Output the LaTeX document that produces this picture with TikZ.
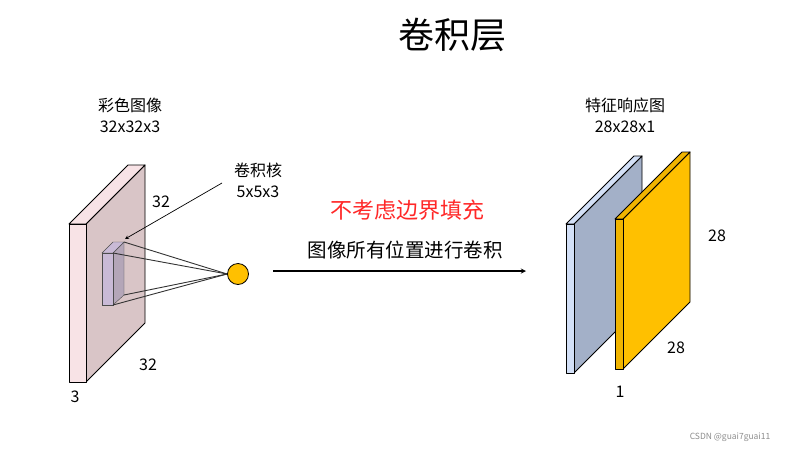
\documentclass[tikz,border=0pt]{standalone}
\usepackage{fontspec}
\setmainfont{Noto Sans CJK SC}
\begin{document}
\begin{tikzpicture}[x=1pt,y=-1pt,
  lbl/.style={font=\fontsize{16}{18}\selectfont,inner sep=0pt},
  edge/.style={draw=black,line width=0.9pt,line join=round}]
\useasboundingbox (0,0) rectangle (794,453);
\fill[white] (0,0) rectangle (794,453);
% input volume
\definecolor{pinkF}{HTML}{F8E3E6}\definecolor{pinkS}{HTML}{D9C5C7}
\filldraw[edge,fill=pinkS] (86,224)--(145,165)--(145,323)--(86,382)--cycle;
\filldraw[edge,fill=pinkF] (69,224)--(128,165)--(145,165)--(86,224)--cycle;
\filldraw[edge,fill=pinkF] (69,224) rectangle (86,382);
% kernel
\definecolor{kF}{HTML}{C9BAD6}\definecolor{kS}{HTML}{B4A6B8}
\filldraw[draw=black!70,fill=kS] (113,253)--(124,242)--(124,295)--(113,305)--cycle;
\filldraw[draw=black!70,fill=kF] (102,253)--(113,242)--(124,242)--(113,253)--cycle;
\filldraw[draw=black!70,fill=kF] (102,253) rectangle (113,305);
\node[circle,draw=black,line width=0.8pt,fill={rgb,255:red,255;green,192;blue,0},minimum size=21pt,inner sep=0pt] (dot) at (238,274) {};
\coordinate (k1) at (124,242);\coordinate (k2) at (113,253);
\coordinate (k3) at (113,305);\coordinate (k4) at (124,295);
\foreach \k in {k1,k2,k3,k4} \draw[black!80,line width=0.9pt] (\k)--(dot.west);
% labels left
\node[lbl] (in1) at (130,105) {彩色图像};
\node[lbl] (in2) at (130,127) {32x32x3};
\node[lbl] (kn1) at (258,170) {卷积核};
\node[lbl] (kn2) at (258,192) {5x5x3};
\coordinate (kt) at (125,239);
\draw[-stealth,line width=0.7pt] (222,183)--(kt);
\node[lbl] (d1) at (161,202) {32};
\node[lbl] (d2) at (148,365) {32};
\node[lbl] (d3) at (75,397) {3};
% title
\node[font=\fontsize{36}{40}\selectfont,inner sep=0pt] (title) at (452,35) {卷积层};
% middle
\node[lbl,text={rgb,255:red,255;green,40;blue,40},font=\fontsize{22}{24}\selectfont] (red) at (407,210) {不考虑边界填充};
\node[lbl,font=\fontsize{19.5}{22}\selectfont] (mid) at (405,250) {图像所有位置进行卷积};
\coordinate (a1) at (273,271);\coordinate (a2) at (526,271);
\draw[-stealth,line width=1.3pt] (a1)--(a2);
% output
\definecolor{bF}{HTML}{D3E0F7}\definecolor{bS}{HTML}{A3B0C8}
\filldraw[edge,fill=bS] (574,224)--(642,156)--(642,305)--(574,373)--cycle;
\filldraw[edge,fill=bF] (566,224)--(634,156)--(642,156)--(574,224)--cycle;
\filldraw[edge,fill=bF] (566,224) rectangle (574,373);
\definecolor{yS}{HTML}{FFC000}\definecolor{yF}{HTML}{F0B400}
\filldraw[edge,fill=yS] (623,219)--(690,152)--(690,302)--(623,369)--cycle;
\filldraw[edge,fill=yF] (615,219)--(682,152)--(690,152)--(623,219)--cycle;
\filldraw[edge,fill=yF] (615,219) rectangle (623,369);
\node[lbl] (o1) at (625,105) {特征响应图};
\node[lbl] (o2) at (625,127) {28x28x1};
\node[lbl] (e1) at (717,236) {28};
\node[lbl] (e2) at (676,348) {28};
\node[lbl] (e3) at (620,392) {1};
\node[font=\fontsize{8.5}{9}\selectfont,text=black!45,inner sep=0pt] (cs) at (730,437) {CSDN @guai7guai11};
\end{tikzpicture}
\end{document}
